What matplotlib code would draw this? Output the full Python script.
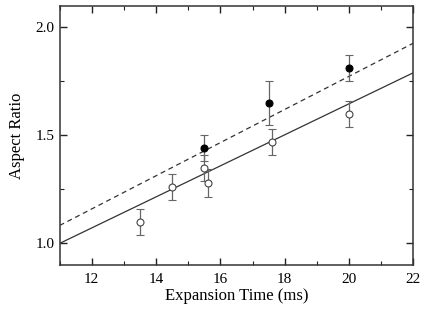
import numpy as np
import matplotlib
matplotlib.use("Agg")
import matplotlib.pyplot as plt
from matplotlib.ticker import MultipleLocator

#------------------------------------------------------------------------------#

# Open circles
tOpen   = [13.5, 14.5, 15.5, 15.6, 17.6, 20.0]
arOpen  = [1.10, 1.26, 1.35, 1.28, 1.47, 1.60]
errOpen = [0.06, 0.06, 0.06, 0.065, 0.06, 0.06]

# Filled circles
tFill   = [15.5, 17.5, 20.0]
arFill  = [1.44, 1.65, 1.81]
errFill = [0.06, 0.10, 0.06]

# Fit lines: (intercept at t=11, slope)
fitSolid  = [1.000, 0.0718]
fitDashed = [1.083, 0.0767]

#------------------------------------------------------------------------------#

plt.rcParams["font.family"] = ["Liberation Serif", "DejaVu Serif"]

fig = plt.figure(figsize=(4.36, 3.26), dpi=100)
ax  = fig.add_axes([0.1367, 0.187, 0.8113, 0.7955])

t = np.array([11.0, 22.0])
ax.plot(t, fitSolid[0] + fitSolid[1]*(t - 11), color='#333333', lw=0.9)
ax.plot(t, fitDashed[0] + fitDashed[1]*(t - 11), color='#333333', lw=0.9,
        dashes=(4, 3))

ax.errorbar(tOpen, arOpen, yerr=errOpen, fmt='o', ms=5, mfc='white',
            mec='#444444', mew=0.8, ecolor='#666666', elinewidth=0.9,
            capsize=3, capthick=0.9, zorder=3)
ax.errorbar(tFill, arFill, yerr=errFill, fmt='o', ms=5, mfc='black',
            mec='black', mew=0.8, ecolor='#666666', elinewidth=0.9,
            capsize=3, capthick=0.9, zorder=4)

ax.set_xlim(11, 22)
ax.set_ylim(0.9, 2.1)
ax.xaxis.set_major_locator(MultipleLocator(2))
ax.xaxis.set_minor_locator(MultipleLocator(1))
ax.yaxis.set_major_locator(MultipleLocator(0.5))
ax.yaxis.set_minor_locator(MultipleLocator(0.25))
ax.tick_params(which='both', direction='in', top=True, right=True,
               labelsize=11, color='#222222')
ax.tick_params(which='major', length=5, width=1)
ax.tick_params(which='minor', length=3, width=0.8)
ax.tick_params(axis='x', which='major', pad=6)
ax.yaxis.set_major_formatter(plt.FormatStrFormatter('%.1f'))

for spine in ax.spines.values():
    spine.set_linewidth(1.1)
    spine.set_color('#333333')

ax.set_xlabel("Expansion Time (ms)", fontsize=12, labelpad=1)
ax.set_ylabel("Aspect Ratio", fontsize=12, labelpad=8)

fig.savefig("out.png", dpi=100)
